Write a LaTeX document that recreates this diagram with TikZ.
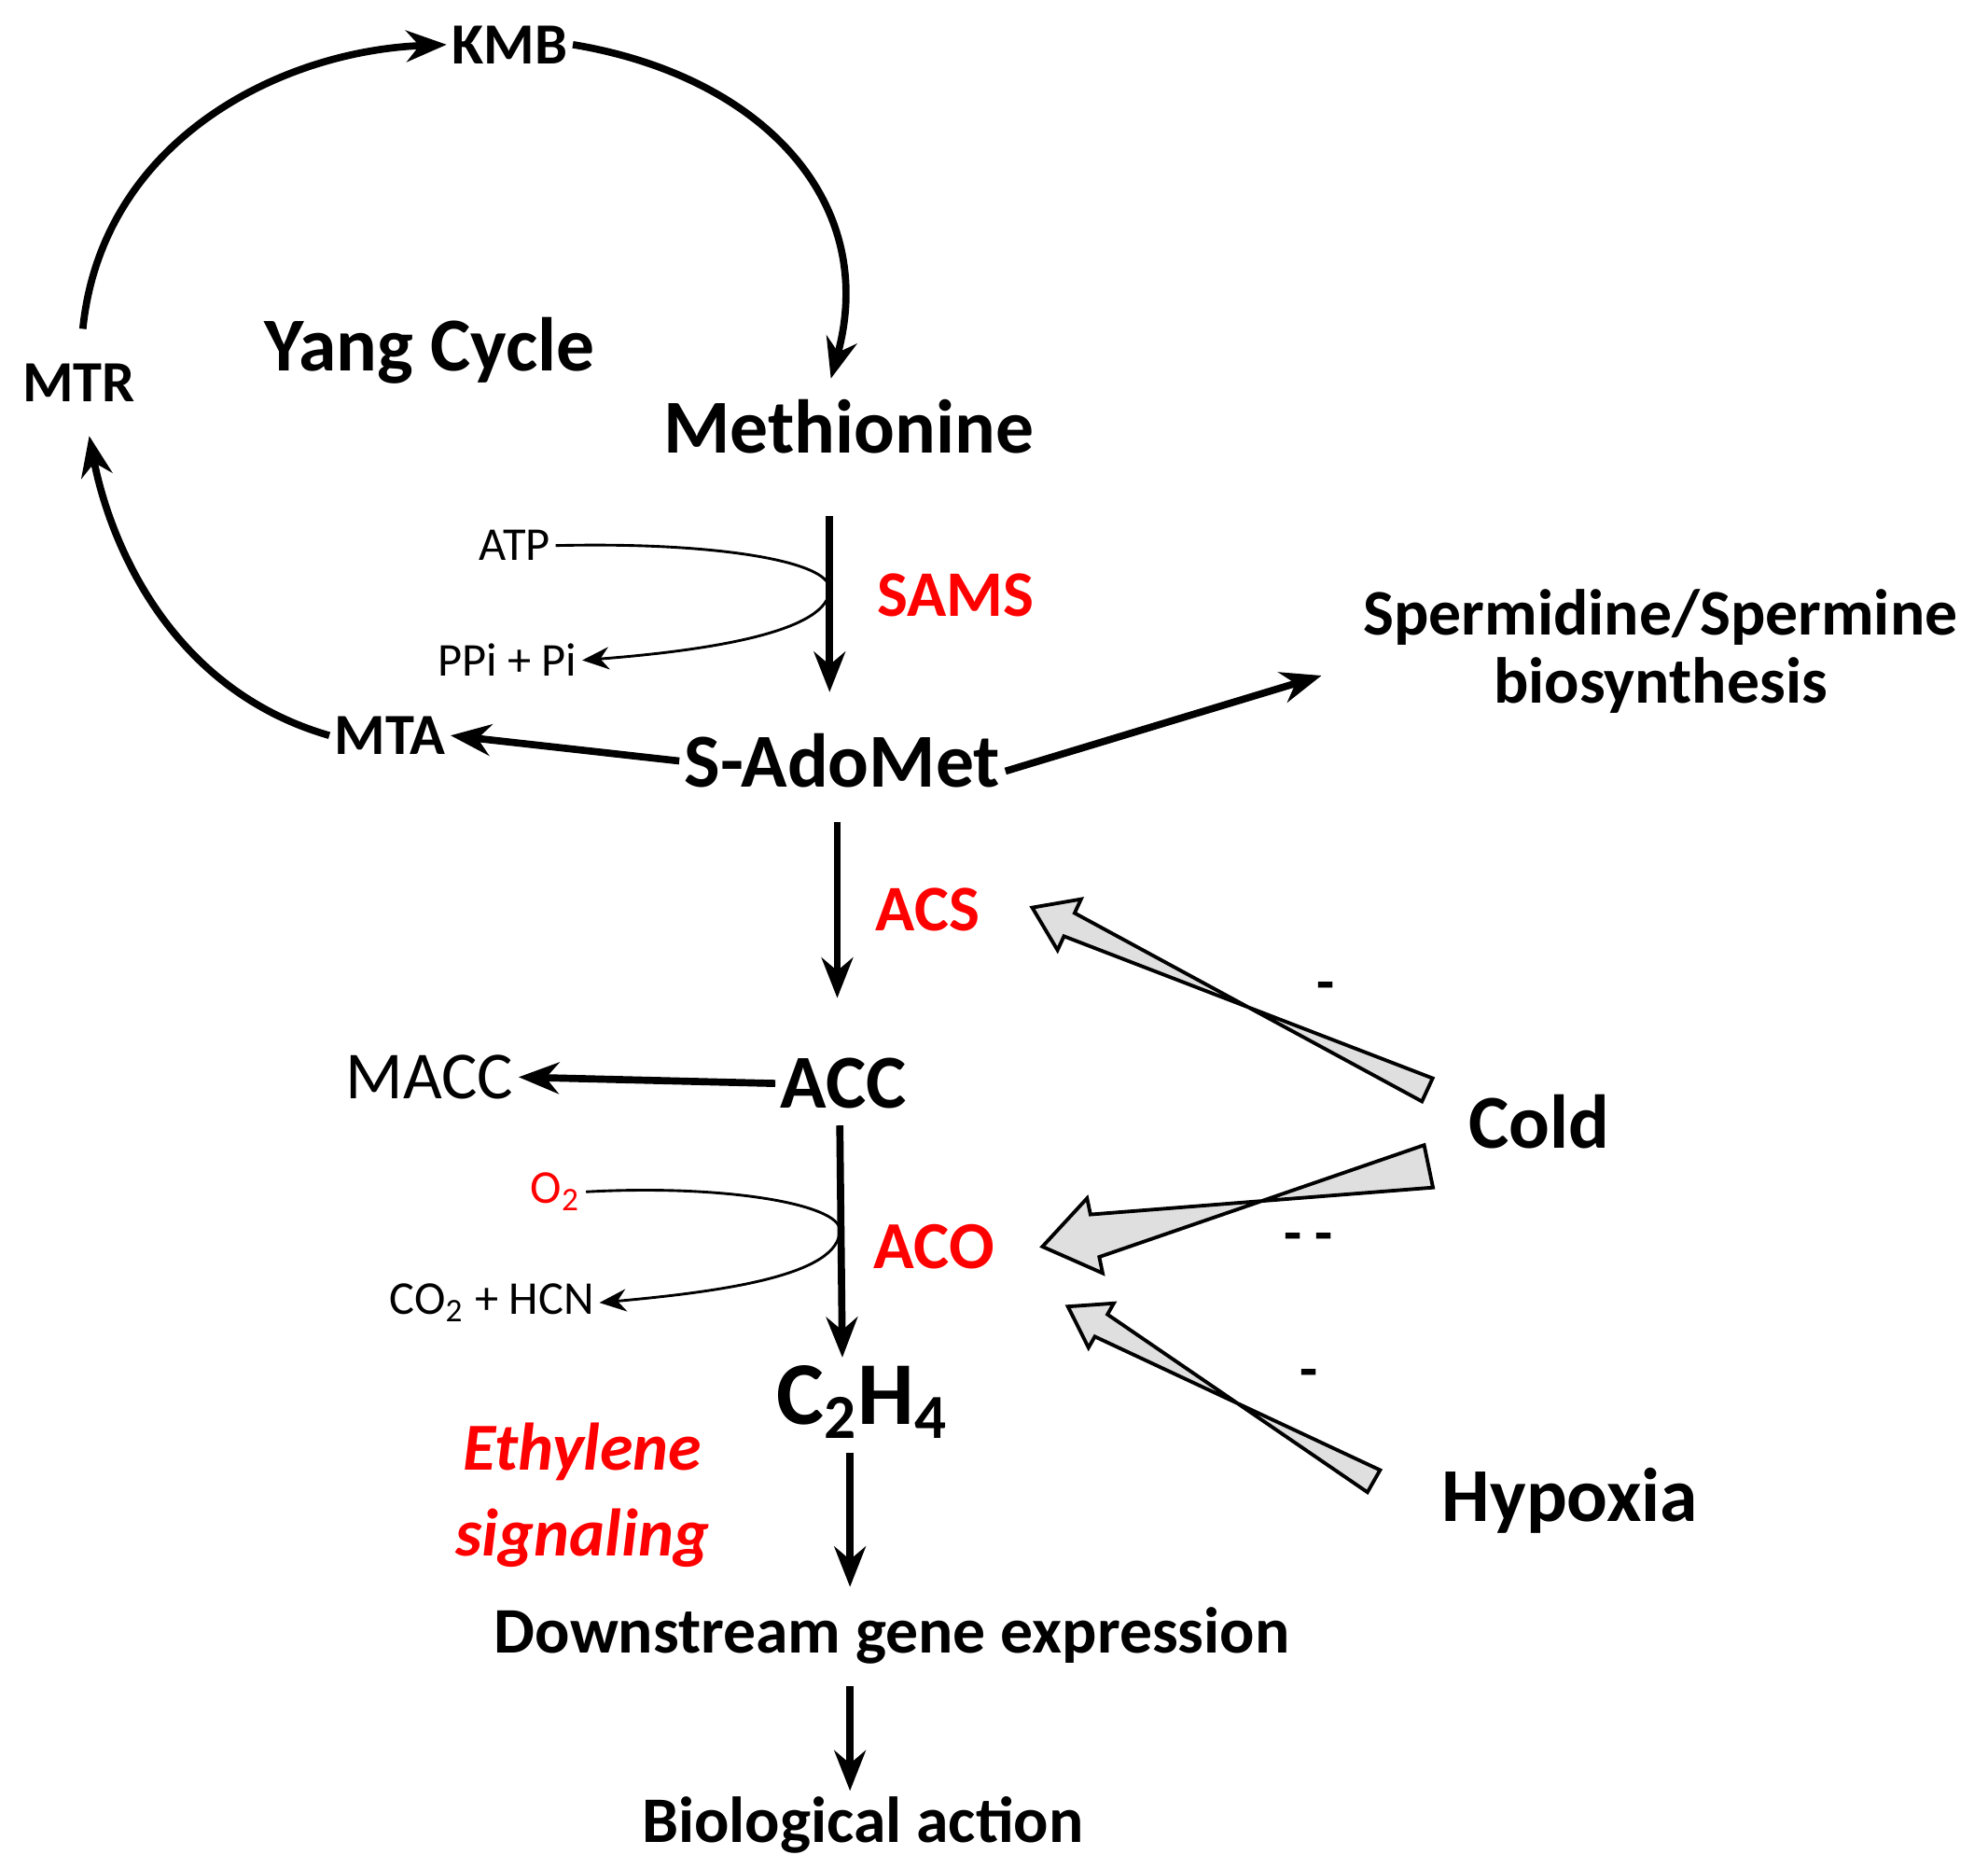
\documentclass[tikz,border=0pt]{standalone}
\usepackage{fontspec}
\setmainfont{Carlito}
\usetikzlibrary{arrows.meta,calc}
\begin{document}
\begin{tikzpicture}[x=0.01cm,y=-0.01cm,
  lbl/.style={font=\bfseries\fontsize{13}{15}\selectfont,inner sep=1pt},
  big/.style={font=\bfseries\fontsize{17}{19}\selectfont,inner sep=1pt},
  red/.style={text={rgb,255:red,255;green,0;blue,0}},
  small/.style={font=\fontsize{10.5}{12}\selectfont,inner sep=1pt},
  arr/.style={line width=1.6pt,-{Stealth[length=9pt,width=7pt]}},
  thin/.style={line width=0.6pt,-{Stealth[length=6pt,width=5pt]}},
  blk/.style={draw=black,line width=0.8pt,fill=gray!25,line join=miter}]
\useasboundingbox (0,0) rectangle (1560,1466);
\node[lbl] (kmb) at (400,35) {KMB};
\node[lbl] (mtr) at (62,300) {MTR};
\node[big] (yang) at (337,275) {Yang Cycle};
\node[big] (met) at (666,335) {Methionine};
\node[small] (atp) at (404,428) {ATP};
\node[small] (ppi) at (398,518) {PPi + Pi};
\node[lbl,red,font=\bfseries\fontsize{14.5}{16}\selectfont] (sams) at (750,467) {SAMS};
\node[big] (sam) at (661,597) {S-AdoMet};
\node[lbl] (mta) at (306,577) {MTA};
\node[lbl,font=\bfseries\fontsize{14.5}{16}\selectfont,align=center] (spd) at (1303,511) {Spermidine/Spermine\\[-1pt]biosynthesis};
\node[lbl,red,font=\bfseries\fontsize{14.5}{16}\selectfont] (acs) at (728,714) {ACS};
\node[big] (acc) at (662,850) {ACC};
\node[font=\fontsize{15}{17}\selectfont,inner sep=1pt] (macc) at (337,845) {MACC};
\node[small,red] (o2) at (436,935) {O\textsubscript{2}};
\node[small] (co2) at (386,1022) {CO\textsubscript{2} + HCN};
\node[lbl,red,font=\bfseries\fontsize{15}{17}\selectfont] (aco) at (733,978) {ACO};
\node[font=\bfseries\fontsize{20}{22}\selectfont,inner sep=1pt] (c2h4) at (677,1100) {C\textsubscript{2}H\textsubscript{4}};
\node[red,font=\bfseries\itshape\fontsize{15}{19}\selectfont,align=center] (eth) at (457,1173) {Ethylene\\signaling};
\node[lbl,font=\bfseries\fontsize{14.5}{16}\selectfont] (down) at (700,1283) {Downstream gene expression};
\node[lbl,font=\bfseries\fontsize{14.5}{16}\selectfont] (bio) at (677,1432) {Biological action};
\node[big] (cold) at (1208,880) {Cold};
\node[big] (hyp) at (1232,1177) {Hypoxia};
\node[lbl] (m1) at (1040,778) {-};
\node[lbl] (m2) at (1027,975) {- -};
\node[lbl] (m3) at (1027,1082) {-};

\draw[arr] (65,258) .. controls (80,110) and (220,40) .. (kmb.west);
\draw[arr] (kmb.east) .. controls (600,60) and (690,160) .. (652,297);
\draw[arr] (mta.west) .. controls (130,540) and (85,420) .. (70,342);
\draw[arr] (651,405) -- (651,543);
\draw[thin] (atp.east) .. controls (560,425) and (651,440) .. (651,462) .. controls (651,495) and (560,510) .. (ppi.east);
\draw[arr] (sam.west) -- (mta.east);
\draw[arr] (sam.east) ++(0,8) -- (1037,530);
\draw[arr] (657,645) -- (657,783);
\draw[arr] (acc.west) -- (macc.east);
\draw[arr] (659,883) -- (661,1065);
\draw[thin] (o2.east) .. controls (570,929) and (659,945) .. (659,965) .. controls (659,1000) and (570,1013) .. (co2.east);
\draw[arr] (667,1140) -- (667,1245);
\draw[arr] (667,1323) -- (667,1405);

\coordinate (s1) at (1120,855); \coordinate (e1) at (810,712);
\coordinate (s2) at (1121,915); \coordinate (e2) at (818,978);
\coordinate (s3) at (1078,1162); \coordinate (e3) at (838,1025);
\foreach \s/\e/\w/\hw/\hl in {s1/e1/0.1cm/0.22cm/0.32cm, s2/e2/0.17cm/0.3cm/0.42cm, s3/e3/0.1cm/0.2cm/0.3cm}{
  \path ($(\e)!\hl!(\s)$) coordinate (h);
  \draw[blk] ($(\s)!\w!90:(\e)$) -- ($(h)!\w!-90:(\e)$) -- ($(h)!\hw!-90:(\e)$) -- (\e)
    -- ($(h)!\hw!90:(\e)$) -- ($(h)!\w!90:(\e)$) -- ($(\s)!\w!-90:(\e)$) -- cycle;
}
\end{tikzpicture}
\end{document}
